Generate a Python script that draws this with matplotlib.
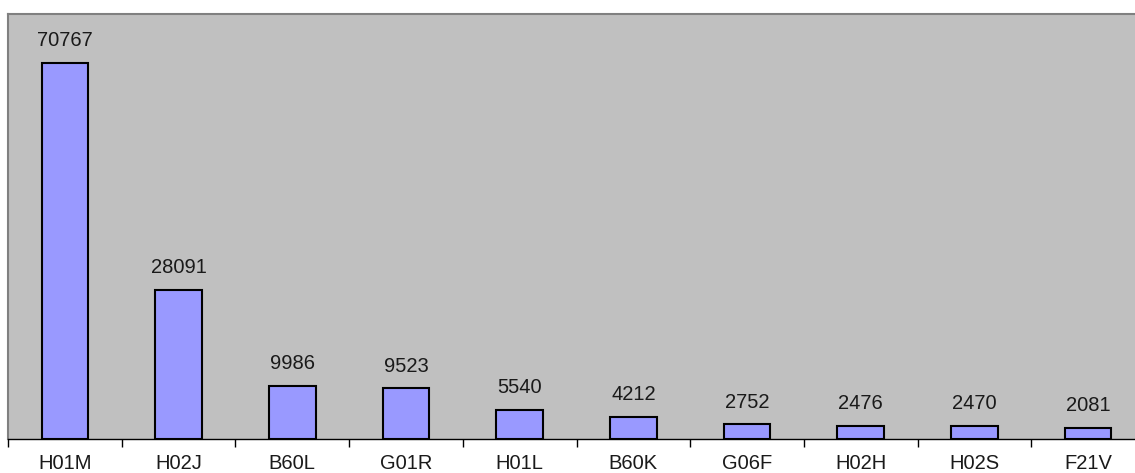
import numpy as np
import matplotlib.pyplot as plt

codes = ['H01M', 'H02J', 'B60L', 'G01R', 'H01L', 'B60K', 'G06F', 'H02H', 'H02S', 'F21V']
counts = [70767, 28091, 9986, 9523, 5540, 4212, 2752, 2476, 2470, 2081]

plt.rcParams['font.family'] = ['Liberation Sans', 'DejaVu Sans']

fig = plt.figure(figsize=(11.35, 4.73), dpi=100)
W, H = 1135, 473
# plot area runs past the right edge, like the original
ax = fig.add_axes([8 / W, 34 / H, 1137 / W, 425 / H])
ax.set_facecolor('#C0C0C0')

x = np.arange(len(codes))
ax.bar(x, counts, width=0.41, color='#9999FF', edgecolor='black', linewidth=1.5, zorder=3)

for xi, v in zip(x, counts):
    ax.annotate(str(v), (xi, v), xytext=(0, 12), textcoords='offset points',
                ha='center', va='baseline', fontsize=14.5, color='#1a1a1a')

ax.set_xlim(-0.5, len(codes) - 0.5)
ax.set_ylim(0, 80000)
ax.set_yticks([])
ax.set_xticks(x)
ax.set_xticklabels(codes, fontsize=14.5, color='#1a1a1a')
ax.set_xticks(np.arange(-0.5, len(codes), 1), minor=True)
ax.tick_params(axis='x', which='major', length=0, pad=11)
ax.tick_params(axis='x', which='minor', length=6, width=1, direction='out')

for s in ['top', 'left']:
    ax.spines[s].set_color('#808080')
    ax.spines[s].set_linewidth(1.5)
ax.spines['right'].set_visible(False)
ax.spines['bottom'].set_color('black')
ax.spines['bottom'].set_linewidth(1)

fig.savefig('out.png', dpi=100)
